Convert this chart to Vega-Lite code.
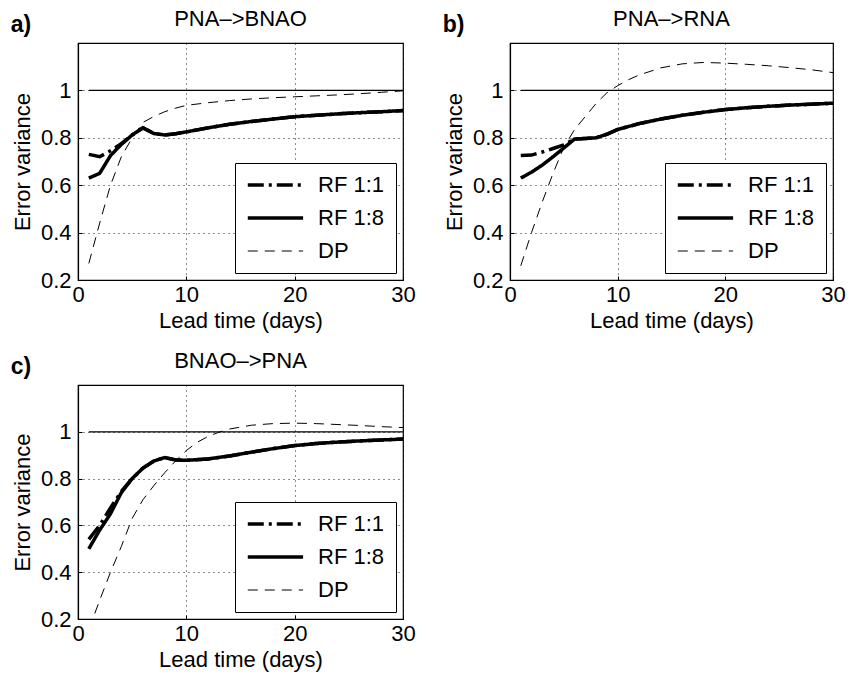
{
  "$schema": "https://vega.github.io/schema/vega-lite/v6.json",
  "background": "white",
  "padding": {"left": 10, "top": 7, "right": 5, "bottom": 5},
  "config": {
    "font": "Liberation Sans",
    "view": {"stroke": "black", "strokeWidth": 1.2},
    "axis": {
      "domainColor": "black", "domainWidth": 1.2, "labelFlush": false,
      "tickColor": "black", "tickSize": -4, "tickWidth": 1,
      "labelColor": "black", "labelFontSize": 22, "labelFont": "Liberation Sans",
      "titleColor": "black", "titleFontSize": 22, "titleFontWeight": "normal", "titleFont": "Liberation Sans",
      "gridColor": "black", "gridDash": [1, 4], "gridOpacity": 0.9, "gridWidth": 1
    },
    "axisX": {"labelPadding": 8, "titlePadding": 5},
    "axisY": {"labelPadding": 11, "titlePadding": 6},
    "legend": {
      "orient": "bottom-right", "offset": 7,
      "strokeColor": "black", "fillColor": "white", "padding": 11, "cornerRadius": 0,
      "labelFontSize": 22, "labelFont": "Liberation Sans", "labelColor": "black", "labelOffset": 50,
      "symbolType": "M-1,0H5", "symbolSize": 340, "symbolStrokeColor": "black", "symbolFillColor": "transparent",
      "rowPadding": 11
    },
    "title": {"font": "Liberation Sans", "fontSize": 22, "fontWeight": "normal", "color": "black", "offset": 12}
  },
  "datasets": {
    "ref": [{"lead": 1, "err": 1}, {"lead": 30, "err": 1}],
    "curves": [
      {"panel": "a", "series": "RF 1:1", "lead": 1, "err": 0.73},
      {"panel": "a", "series": "RF 1:1", "lead": 2, "err": 0.72},
      {"panel": "a", "series": "RF 1:1", "lead": 3, "err": 0.745},
      {"panel": "a", "series": "RF 1:1", "lead": 4, "err": 0.775},
      {"panel": "a", "series": "RF 1:1", "lead": 5, "err": 0.812},
      {"panel": "a", "series": "RF 1:1", "lead": 6, "err": 0.842},
      {"panel": "a", "series": "RF 1:1", "lead": 7, "err": 0.818},
      {"panel": "a", "series": "RF 1:1", "lead": 8, "err": 0.812},
      {"panel": "a", "series": "RF 1:1", "lead": 9, "err": 0.817},
      {"panel": "a", "series": "RF 1:1", "lead": 10, "err": 0.825},
      {"panel": "a", "series": "RF 1:1", "lead": 12, "err": 0.842},
      {"panel": "a", "series": "RF 1:1", "lead": 14, "err": 0.857},
      {"panel": "a", "series": "RF 1:1", "lead": 16, "err": 0.869},
      {"panel": "a", "series": "RF 1:1", "lead": 18, "err": 0.879},
      {"panel": "a", "series": "RF 1:1", "lead": 20, "err": 0.889},
      {"panel": "a", "series": "RF 1:1", "lead": 22, "err": 0.895},
      {"panel": "a", "series": "RF 1:1", "lead": 24, "err": 0.901},
      {"panel": "a", "series": "RF 1:1", "lead": 26, "err": 0.906},
      {"panel": "a", "series": "RF 1:1", "lead": 28, "err": 0.910},
      {"panel": "a", "series": "RF 1:1", "lead": 30, "err": 0.915},
      {"panel": "a", "series": "RF 1:8", "lead": 1, "err": 0.63},
      {"panel": "a", "series": "RF 1:8", "lead": 2, "err": 0.65},
      {"panel": "a", "series": "RF 1:8", "lead": 3, "err": 0.725},
      {"panel": "a", "series": "RF 1:8", "lead": 4, "err": 0.772},
      {"panel": "a", "series": "RF 1:8", "lead": 5, "err": 0.812},
      {"panel": "a", "series": "RF 1:8", "lead": 6, "err": 0.842},
      {"panel": "a", "series": "RF 1:8", "lead": 7, "err": 0.818},
      {"panel": "a", "series": "RF 1:8", "lead": 8, "err": 0.812},
      {"panel": "a", "series": "RF 1:8", "lead": 9, "err": 0.817},
      {"panel": "a", "series": "RF 1:8", "lead": 10, "err": 0.825},
      {"panel": "a", "series": "RF 1:8", "lead": 12, "err": 0.842},
      {"panel": "a", "series": "RF 1:8", "lead": 14, "err": 0.857},
      {"panel": "a", "series": "RF 1:8", "lead": 16, "err": 0.869},
      {"panel": "a", "series": "RF 1:8", "lead": 18, "err": 0.879},
      {"panel": "a", "series": "RF 1:8", "lead": 20, "err": 0.889},
      {"panel": "a", "series": "RF 1:8", "lead": 22, "err": 0.895},
      {"panel": "a", "series": "RF 1:8", "lead": 24, "err": 0.901},
      {"panel": "a", "series": "RF 1:8", "lead": 26, "err": 0.906},
      {"panel": "a", "series": "RF 1:8", "lead": 28, "err": 0.910},
      {"panel": "a", "series": "RF 1:8", "lead": 30, "err": 0.915},
      {"panel": "a", "series": "DP", "lead": 1, "err": 0.27},
      {"panel": "a", "series": "DP", "lead": 2, "err": 0.44},
      {"panel": "a", "series": "DP", "lead": 3, "err": 0.6},
      {"panel": "a", "series": "DP", "lead": 4, "err": 0.72},
      {"panel": "a", "series": "DP", "lead": 5, "err": 0.8},
      {"panel": "a", "series": "DP", "lead": 6, "err": 0.865},
      {"panel": "a", "series": "DP", "lead": 7, "err": 0.89},
      {"panel": "a", "series": "DP", "lead": 8, "err": 0.91},
      {"panel": "a", "series": "DP", "lead": 9, "err": 0.925},
      {"panel": "a", "series": "DP", "lead": 10, "err": 0.937},
      {"panel": "a", "series": "DP", "lead": 12, "err": 0.948},
      {"panel": "a", "series": "DP", "lead": 14, "err": 0.957},
      {"panel": "a", "series": "DP", "lead": 16, "err": 0.964},
      {"panel": "a", "series": "DP", "lead": 18, "err": 0.969},
      {"panel": "a", "series": "DP", "lead": 20, "err": 0.973},
      {"panel": "a", "series": "DP", "lead": 22, "err": 0.977},
      {"panel": "a", "series": "DP", "lead": 24, "err": 0.981},
      {"panel": "a", "series": "DP", "lead": 26, "err": 0.986},
      {"panel": "a", "series": "DP", "lead": 28, "err": 0.992},
      {"panel": "a", "series": "DP", "lead": 30, "err": 0.998},
      {"panel": "b", "series": "RF 1:1", "lead": 1, "err": 0.725},
      {"panel": "b", "series": "RF 1:1", "lead": 2, "err": 0.727},
      {"panel": "b", "series": "RF 1:1", "lead": 3, "err": 0.74},
      {"panel": "b", "series": "RF 1:1", "lead": 4, "err": 0.755},
      {"panel": "b", "series": "RF 1:1", "lead": 5, "err": 0.77},
      {"panel": "b", "series": "RF 1:1", "lead": 6, "err": 0.795},
      {"panel": "b", "series": "RF 1:1", "lead": 7, "err": 0.797},
      {"panel": "b", "series": "RF 1:1", "lead": 8, "err": 0.8},
      {"panel": "b", "series": "RF 1:1", "lead": 9, "err": 0.815},
      {"panel": "b", "series": "RF 1:1", "lead": 10, "err": 0.835},
      {"panel": "b", "series": "RF 1:1", "lead": 12, "err": 0.86},
      {"panel": "b", "series": "RF 1:1", "lead": 14, "err": 0.879},
      {"panel": "b", "series": "RF 1:1", "lead": 16, "err": 0.895},
      {"panel": "b", "series": "RF 1:1", "lead": 18, "err": 0.908},
      {"panel": "b", "series": "RF 1:1", "lead": 20, "err": 0.919},
      {"panel": "b", "series": "RF 1:1", "lead": 22, "err": 0.927},
      {"panel": "b", "series": "RF 1:1", "lead": 24, "err": 0.933},
      {"panel": "b", "series": "RF 1:1", "lead": 26, "err": 0.938},
      {"panel": "b", "series": "RF 1:1", "lead": 28, "err": 0.942},
      {"panel": "b", "series": "RF 1:1", "lead": 30, "err": 0.946},
      {"panel": "b", "series": "RF 1:8", "lead": 1, "err": 0.63},
      {"panel": "b", "series": "RF 1:8", "lead": 2, "err": 0.655},
      {"panel": "b", "series": "RF 1:8", "lead": 3, "err": 0.685},
      {"panel": "b", "series": "RF 1:8", "lead": 4, "err": 0.72},
      {"panel": "b", "series": "RF 1:8", "lead": 5, "err": 0.757},
      {"panel": "b", "series": "RF 1:8", "lead": 6, "err": 0.795},
      {"panel": "b", "series": "RF 1:8", "lead": 7, "err": 0.797},
      {"panel": "b", "series": "RF 1:8", "lead": 8, "err": 0.8},
      {"panel": "b", "series": "RF 1:8", "lead": 9, "err": 0.815},
      {"panel": "b", "series": "RF 1:8", "lead": 10, "err": 0.835},
      {"panel": "b", "series": "RF 1:8", "lead": 12, "err": 0.86},
      {"panel": "b", "series": "RF 1:8", "lead": 14, "err": 0.879},
      {"panel": "b", "series": "RF 1:8", "lead": 16, "err": 0.895},
      {"panel": "b", "series": "RF 1:8", "lead": 18, "err": 0.908},
      {"panel": "b", "series": "RF 1:8", "lead": 20, "err": 0.919},
      {"panel": "b", "series": "RF 1:8", "lead": 22, "err": 0.927},
      {"panel": "b", "series": "RF 1:8", "lead": 24, "err": 0.933},
      {"panel": "b", "series": "RF 1:8", "lead": 26, "err": 0.938},
      {"panel": "b", "series": "RF 1:8", "lead": 28, "err": 0.942},
      {"panel": "b", "series": "RF 1:8", "lead": 30, "err": 0.946},
      {"panel": "b", "series": "DP", "lead": 1, "err": 0.26},
      {"panel": "b", "series": "DP", "lead": 2, "err": 0.4},
      {"panel": "b", "series": "DP", "lead": 3, "err": 0.53},
      {"panel": "b", "series": "DP", "lead": 4, "err": 0.65},
      {"panel": "b", "series": "DP", "lead": 5, "err": 0.76},
      {"panel": "b", "series": "DP", "lead": 6, "err": 0.835},
      {"panel": "b", "series": "DP", "lead": 7, "err": 0.89},
      {"panel": "b", "series": "DP", "lead": 8, "err": 0.945},
      {"panel": "b", "series": "DP", "lead": 9, "err": 0.99},
      {"panel": "b", "series": "DP", "lead": 10, "err": 1.02},
      {"panel": "b", "series": "DP", "lead": 11, "err": 1.045},
      {"panel": "b", "series": "DP", "lead": 12, "err": 1.065},
      {"panel": "b", "series": "DP", "lead": 13, "err": 1.08},
      {"panel": "b", "series": "DP", "lead": 14, "err": 1.095},
      {"panel": "b", "series": "DP", "lead": 16, "err": 1.112},
      {"panel": "b", "series": "DP", "lead": 18, "err": 1.118},
      {"panel": "b", "series": "DP", "lead": 20, "err": 1.115},
      {"panel": "b", "series": "DP", "lead": 22, "err": 1.11},
      {"panel": "b", "series": "DP", "lead": 24, "err": 1.104},
      {"panel": "b", "series": "DP", "lead": 26, "err": 1.096},
      {"panel": "b", "series": "DP", "lead": 28, "err": 1.087},
      {"panel": "b", "series": "DP", "lead": 30, "err": 1.075},
      {"panel": "c", "series": "RF 1:1", "lead": 1, "err": 0.54},
      {"panel": "c", "series": "RF 1:1", "lead": 2, "err": 0.6},
      {"panel": "c", "series": "RF 1:1", "lead": 3, "err": 0.675},
      {"panel": "c", "series": "RF 1:1", "lead": 4, "err": 0.745},
      {"panel": "c", "series": "RF 1:1", "lead": 5, "err": 0.8},
      {"panel": "c", "series": "RF 1:1", "lead": 6, "err": 0.845},
      {"panel": "c", "series": "RF 1:1", "lead": 7, "err": 0.875},
      {"panel": "c", "series": "RF 1:1", "lead": 8, "err": 0.89},
      {"panel": "c", "series": "RF 1:1", "lead": 9, "err": 0.88},
      {"panel": "c", "series": "RF 1:1", "lead": 10, "err": 0.878},
      {"panel": "c", "series": "RF 1:1", "lead": 12, "err": 0.884},
      {"panel": "c", "series": "RF 1:1", "lead": 14, "err": 0.897},
      {"panel": "c", "series": "RF 1:1", "lead": 16, "err": 0.913},
      {"panel": "c", "series": "RF 1:1", "lead": 18, "err": 0.928},
      {"panel": "c", "series": "RF 1:1", "lead": 20, "err": 0.941},
      {"panel": "c", "series": "RF 1:1", "lead": 22, "err": 0.95},
      {"panel": "c", "series": "RF 1:1", "lead": 24, "err": 0.956},
      {"panel": "c", "series": "RF 1:1", "lead": 26, "err": 0.961},
      {"panel": "c", "series": "RF 1:1", "lead": 28, "err": 0.965},
      {"panel": "c", "series": "RF 1:1", "lead": 30, "err": 0.969},
      {"panel": "c", "series": "RF 1:8", "lead": 1, "err": 0.5},
      {"panel": "c", "series": "RF 1:8", "lead": 2, "err": 0.58},
      {"panel": "c", "series": "RF 1:8", "lead": 3, "err": 0.65},
      {"panel": "c", "series": "RF 1:8", "lead": 4, "err": 0.74},
      {"panel": "c", "series": "RF 1:8", "lead": 5, "err": 0.8},
      {"panel": "c", "series": "RF 1:8", "lead": 6, "err": 0.845},
      {"panel": "c", "series": "RF 1:8", "lead": 7, "err": 0.875},
      {"panel": "c", "series": "RF 1:8", "lead": 8, "err": 0.89},
      {"panel": "c", "series": "RF 1:8", "lead": 9, "err": 0.88},
      {"panel": "c", "series": "RF 1:8", "lead": 10, "err": 0.878},
      {"panel": "c", "series": "RF 1:8", "lead": 12, "err": 0.884},
      {"panel": "c", "series": "RF 1:8", "lead": 14, "err": 0.897},
      {"panel": "c", "series": "RF 1:8", "lead": 16, "err": 0.913},
      {"panel": "c", "series": "RF 1:8", "lead": 18, "err": 0.928},
      {"panel": "c", "series": "RF 1:8", "lead": 20, "err": 0.941},
      {"panel": "c", "series": "RF 1:8", "lead": 22, "err": 0.95},
      {"panel": "c", "series": "RF 1:8", "lead": 24, "err": 0.956},
      {"panel": "c", "series": "RF 1:8", "lead": 26, "err": 0.961},
      {"panel": "c", "series": "RF 1:8", "lead": 28, "err": 0.965},
      {"panel": "c", "series": "RF 1:8", "lead": 30, "err": 0.969},
      {"panel": "c", "series": "DP", "lead": 1, "err": 0.155},
      {"panel": "c", "series": "DP", "lead": 2, "err": 0.28},
      {"panel": "c", "series": "DP", "lead": 3, "err": 0.4},
      {"panel": "c", "series": "DP", "lead": 4, "err": 0.51},
      {"panel": "c", "series": "DP", "lead": 5, "err": 0.63},
      {"panel": "c", "series": "DP", "lead": 6, "err": 0.71},
      {"panel": "c", "series": "DP", "lead": 7, "err": 0.77},
      {"panel": "c", "series": "DP", "lead": 8, "err": 0.825},
      {"panel": "c", "series": "DP", "lead": 9, "err": 0.875},
      {"panel": "c", "series": "DP", "lead": 10, "err": 0.92},
      {"panel": "c", "series": "DP", "lead": 11, "err": 0.955},
      {"panel": "c", "series": "DP", "lead": 12, "err": 0.98},
      {"panel": "c", "series": "DP", "lead": 13, "err": 0.998},
      {"panel": "c", "series": "DP", "lead": 14, "err": 1.012},
      {"panel": "c", "series": "DP", "lead": 16, "err": 1.028},
      {"panel": "c", "series": "DP", "lead": 18, "err": 1.035},
      {"panel": "c", "series": "DP", "lead": 20, "err": 1.037},
      {"panel": "c", "series": "DP", "lead": 22, "err": 1.035},
      {"panel": "c", "series": "DP", "lead": 24, "err": 1.031},
      {"panel": "c", "series": "DP", "lead": 26, "err": 1.027},
      {"panel": "c", "series": "DP", "lead": 28, "err": 1.022},
      {"panel": "c", "series": "DP", "lead": 30, "err": 1.018}
    ]
  },
  "columns": 2,
  "spacing": {"row": 17, "column": 26},
  "resolve": {"scale": {"strokeDash": "independent", "strokeWidth": "independent"}, "legend": {"strokeDash": "independent", "strokeWidth": "independent"}},
  "concat": [
    {
      "title": {"text": "a)", "anchor": "start", "frame": "bounds", "fontWeight": "bold", "fontSize": 23, "offset": -30},
      "resolve": {"scale": {"strokeDash": "independent", "strokeWidth": "independent"}, "legend": {"strokeDash": "independent", "strokeWidth": "independent"}},
      "vconcat": [{
        "width": 325, "height": 237,
        "title": {"text": "PNA–>BNAO"},
        "layer": [
          {"data": {"name": "ref"}, "mark": {"type": "line", "color": "black", "strokeWidth": 1.2},
           "encoding": {
             "x": {"field": "lead", "type": "quantitative", "scale": {"domain": [0, 30], "nice": false}, "axis": {"values": [0, 10, 20, 30], "title": "Lead time (days)", "grid": true}},
             "y": {"field": "err", "type": "quantitative", "scale": {"domain": [0.2, 1.2], "nice": false, "zero": false}, "axis": {"values": [0.2, 0.4, 0.6, 0.8, 1], "format": "~g", "title": "Error variance", "grid": true}}
           }},
          {"data": {"name": "curves"}, "transform": [{"filter": "datum.panel === 'a'"}],
           "mark": {"type": "line", "color": "black", "clip": true},
           "encoding": {
             "x": {"field": "lead", "type": "quantitative"},
             "y": {"field": "err", "type": "quantitative"},
             "strokeDash": {"field": "series", "type": "nominal", "scale": {"domain": ["RF 1:1", "RF 1:8", "DP"], "range": [[16, 5, 3, 5], [1, 0], [10, 7]]}, "legend": {"title": null}},
             "strokeWidth": {"field": "series", "type": "nominal", "scale": {"type": "ordinal", "domain": ["RF 1:1", "RF 1:8", "DP"], "range": [3.5, 3.5, 1]}, "legend": {"title": null}}
           }}
        ]
      }]
    },
    {
      "title": {"text": "b)", "anchor": "start", "frame": "bounds", "fontWeight": "bold", "fontSize": 23, "offset": -30},
      "resolve": {"scale": {"strokeDash": "independent", "strokeWidth": "independent"}, "legend": {"strokeDash": "independent", "strokeWidth": "independent"}},
      "vconcat": [{
        "width": 323, "height": 237,
        "title": {"text": "PNA–>RNA"},
        "layer": [
          {"data": {"name": "ref"}, "mark": {"type": "line", "color": "black", "strokeWidth": 1.2},
           "encoding": {
             "x": {"field": "lead", "type": "quantitative", "scale": {"domain": [0, 30], "nice": false}, "axis": {"values": [0, 10, 20, 30], "title": "Lead time (days)", "grid": true}},
             "y": {"field": "err", "type": "quantitative", "scale": {"domain": [0.2, 1.2], "nice": false, "zero": false}, "axis": {"values": [0.2, 0.4, 0.6, 0.8, 1], "format": "~g", "title": "Error variance", "grid": true}}
           }},
          {"data": {"name": "curves"}, "transform": [{"filter": "datum.panel === 'b'"}],
           "mark": {"type": "line", "color": "black", "clip": true},
           "encoding": {
             "x": {"field": "lead", "type": "quantitative"},
             "y": {"field": "err", "type": "quantitative"},
             "strokeDash": {"field": "series", "type": "nominal", "scale": {"domain": ["RF 1:1", "RF 1:8", "DP"], "range": [[16, 5, 3, 5], [1, 0], [10, 7]]}, "legend": {"title": null}},
             "strokeWidth": {"field": "series", "type": "nominal", "scale": {"type": "ordinal", "domain": ["RF 1:1", "RF 1:8", "DP"], "range": [3.5, 3.5, 1]}, "legend": {"title": null}}
           }}
        ]
      }]
    },
    {
      "title": {"text": "c)", "anchor": "start", "frame": "bounds", "fontWeight": "bold", "fontSize": 23, "offset": -30},
      "resolve": {"scale": {"strokeDash": "independent", "strokeWidth": "independent"}, "legend": {"strokeDash": "independent", "strokeWidth": "independent"}},
      "vconcat": [{
        "width": 325, "height": 234,
        "title": {"text": "BNAO–>PNA"},
        "layer": [
          {"data": {"name": "ref"}, "mark": {"type": "line", "color": "black", "strokeWidth": 1.2},
           "encoding": {
             "x": {"field": "lead", "type": "quantitative", "scale": {"domain": [0, 30], "nice": false}, "axis": {"values": [0, 10, 20, 30], "title": "Lead time (days)", "grid": true}},
             "y": {"field": "err", "type": "quantitative", "scale": {"domain": [0.2, 1.2], "nice": false, "zero": false}, "axis": {"values": [0.2, 0.4, 0.6, 0.8, 1], "format": "~g", "title": "Error variance", "grid": true}}
           }},
          {"data": {"name": "curves"}, "transform": [{"filter": "datum.panel === 'c'"}],
           "mark": {"type": "line", "color": "black", "clip": true},
           "encoding": {
             "x": {"field": "lead", "type": "quantitative"},
             "y": {"field": "err", "type": "quantitative"},
             "strokeDash": {"field": "series", "type": "nominal", "scale": {"domain": ["RF 1:1", "RF 1:8", "DP"], "range": [[16, 5, 3, 5], [1, 0], [10, 7]]}, "legend": {"title": null}},
             "strokeWidth": {"field": "series", "type": "nominal", "scale": {"type": "ordinal", "domain": ["RF 1:1", "RF 1:8", "DP"], "range": [3.5, 3.5, 1]}, "legend": {"title": null}}
           }}
        ]
      }]
    }
  ]
}
